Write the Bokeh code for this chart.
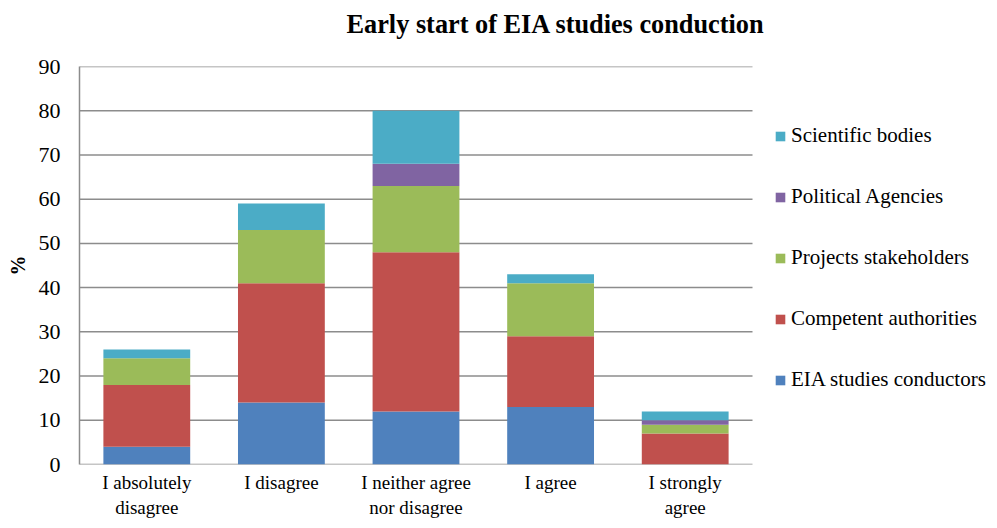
from bokeh.plotting import figure
from bokeh.models import Range1d, Legend, LegendItem, Title, FixedTicker
from bokeh.embed import file_html
from bokeh.resources import INLINE

categories = ["I absolutely disagree", "I disagree", "I neither agree nor disagree", "I agree", "I strongly agree"]
category_labels = ["I absolutely\ndisagree", "I disagree", "I neither agree\nnor disagree", "I agree", "I strongly\nagree"]
series = ["EIA studies conductors", "Competent authorities", "Projects stakeholders", "Political Agencies", "Scientific bodies"]
eia_conductors = [4, 14, 12, 13, 0]
competent_authorities = [14, 27, 36, 16, 7]
projects_stakeholders = [6, 12, 15, 12, 2]
political_agencies = [0, 0, 5, 0, 1]
scientific_bodies = [2, 6, 12, 2, 2]
colors = ["#4F81BD", "#C0504D", "#9BBB59", "#8064A2", "#4BACC6"]
y_ticks = [0, 10, 20, 30, 40, 50, 60, 70, 80, 90]

FONT = "Liberation Serif"
GRID = "#8C8C8C"
W, H = 989, 520
LEFT, TOP, BOTTOM = 79, 66, 55
PLOT_PX = 673            # width of the bar area in pixels
FRAME_PX = W - LEFT      # frame extends to the right edge; legend lives inside it
n = len(categories)
x_start = -0.5
x_plot_end = n - 0.5
x_end = x_start + n * FRAME_PX / PLOT_PX

keys = ["s0", "s1", "s2", "s3", "s4"]
positions = list(range(n))
data = {"x": positions}
for k, vals in zip(keys, [eia_conductors, competent_authorities, projects_stakeholders, political_agencies, scientific_bodies]):
    data[k] = vals

p = figure(x_range=Range1d(x_start, x_end), y_range=Range1d(0, 90),
           width=W, height=H, output_backend="svg", toolbar_location=None,
           min_border_left=LEFT, min_border_right=0, min_border_top=TOP, min_border_bottom=BOTTOM)

# horizontal gridlines limited to the bar area
p.segment(x0=[x_start] * len(y_ticks), x1=[x_plot_end] * len(y_ticks), y0=y_ticks, y1=y_ticks,
          line_color=GRID, line_width=1.5)
renderers = p.vbar_stack(keys, x="x", width=0.645, color=colors, source=data, line_color=None)

p.outline_line_color = None
p.xgrid.grid_line_color = None
p.ygrid.grid_line_color = None
p.yaxis.ticker = FixedTicker(ticks=y_ticks)
p.xaxis.ticker = FixedTicker(ticks=positions)
for ax in (p.xaxis[0], p.yaxis[0]):
    ax.axis_line_color = GRID
    ax.axis_line_width = 1.5
    ax.major_tick_line_color = None
    ax.minor_tick_line_color = None
    ax.major_tick_out = 0
    ax.major_tick_in = 0
    ax.major_label_text_font = FONT
    ax.major_label_text_color = "#000000"
p.xaxis.axis_line_color = None
p.yaxis.major_label_text_font_size = "22px"
p.xaxis.major_label_text_font_size = "19px"
p.yaxis.major_label_standoff = 19
p.xaxis.major_label_standoff = 7
p.xaxis.major_label_overrides = {i: lab for i, lab in zip(positions, category_labels)}
p.yaxis.axis_label = "%"
p.yaxis.axis_label_text_font = FONT
p.yaxis.axis_label_text_font_size = "20px"
p.yaxis.axis_label_text_font_style = "bold"
p.yaxis.axis_label_text_color = "#000000"
p.yaxis.axis_label_standoff = 7

# spacer between frame and title (nearest the frame), then the title
p.add_layout(Title(text=" ", text_font_size="1px", standoff=18), "above")
title = Title(text="Early start of EIA studies conduction", text_font=FONT, text_font_size="26.3px",
              text_font_style="bold", text_color="#000000", align="left", offset=267, standoff=13)
p.add_layout(title, "above")

items = [LegendItem(label=s, renderers=[r]) for s, r in zip(series, renderers)][::-1]
legend = Legend(items=items, location=(695, 72), orientation="vertical", padding=0, margin=0,
                border_line_alpha=0, background_fill_alpha=0, label_text_font=FONT,
                label_text_font_size="21px", label_text_color="#000000",
                glyph_width=12, glyph_height=12, label_height=24,
                spacing=36, label_standoff=5)
p.add_layout(legend, "center")

open("out.html", "w").write(file_html(p, INLINE))
